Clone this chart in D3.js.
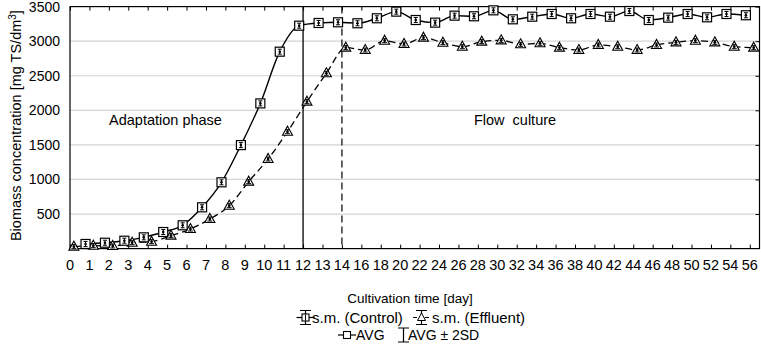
<!DOCTYPE html>
<html lang="en">
<head>
<meta charset="UTF-8">
<title>Biomass concentration</title>
<script src="https://cdn.jsdelivr.net/npm/d3@7"></script>
<style>
  body { margin: 0; background: #fff; }
  svg { display: block; font-family: "Liberation Sans", Arial, sans-serif; }
</style>
</head>
<body>
<svg id="chart" width="761" height="344"></svg>
<script>
// days on the x axis (evenly spaced categories)
var days = [0,1,2,3,4,5,6,7,8,9,10,11,12,13,14,16,18,20,22,24,26,28,30,32,34,36,38,40,42,44,46,48,50,52,54,56];
var yTicks = [500,1000,1500,2000,2500,3000,3500];

// control (squares, solid line) - starts at day 1
var controlDays = [1,2,3,4,5,6,7,8,9,10,11,12,13,14,16,18,20,22,24,26,28,30,32,34,36,38,40,42,44,46,48,50,52,54,56];
var controlVals = [67,85,114,163,240,337,597,959,1497,2100,2848,3224,3263,3273,3259,3331,3427,3306,3268,3369,3360,3446,
                   3316,3354,3393,3331,3393,3354,3436,3306,3340,3393,3345,3393,3375];

// effluent (triangles, dashed line)
var effluentDays = [0,1,2,3,4,5,6,7,8,9,10,11,12,13,14,16,18,20,22,24,26,28,30,32,34,36,38,40,42,44,46,48,50,52,54,56];
var effluentVals = [28,42,38,85,100,187,283,428,620,968,1296,1691,2125,2535,2906,2872,3007,2959,3051,2978,2920,2993,3012,
                    2955,2969,2906,2872,2945,2920,2872,2945,2983,3007,2983,2920,2906];

(function () {
  var svg = d3.select('#chart')
  var pl = 70, pr = 759.5, pt = 6.6, pb = 248.6

  var x = d3.scaleLinear().domain([0, 35.5]).range([pl, pr])
  var y = d3.scaleLinear().domain([0, 3500]).range([pb, pt])
  function xd (d, off) { return x(days.indexOf(d) + off) }

  // grid
  svg.append('g').selectAll('line').data(yTicks.slice(0, -1)).enter().append('line')
    .attr('x1', pl).attr('x2', pr)
    .attr('y1', function (d) { return y(d) }).attr('y2', function (d) { return y(d) })
    .attr('stroke', '#d4d4d4').attr('stroke-width', 1.2)

  // phase lines
  svg.append('line').attr('x1', xd(12, 0)).attr('x2', xd(12, 0)).attr('y1', pt).attr('y2', pb)
    .attr('stroke', '#000').attr('stroke-width', 1.3)
  svg.append('line').attr('x1', xd(14, 0)).attr('x2', xd(14, 0)).attr('y1', pt).attr('y2', pb)
    .attr('stroke', '#333').attr('stroke-width', 1.5).attr('stroke-dasharray', '7,4')

  // axes: ticks inward
  var tickIdx = d3.range(days.length)
  svg.append('g').attr('transform', 'translate(0,' + pb + ')')
    .call(d3.axisTop(x).tickValues(tickIdx).tickFormat('').tickSizeInner(4).tickSizeOuter(0))
  svg.append('g').attr('transform', 'translate(0,' + pt + ')')
    .call(d3.axisBottom(x).tickValues(tickIdx).tickFormat('').tickSizeInner(4).tickSizeOuter(0))
  svg.append('g').attr('transform', 'translate(' + pr + ',0)')
    .call(d3.axisLeft(y).tickValues(yTicks).tickFormat('').tickSizeInner(4).tickSizeOuter(0))
  svg.selectAll('.domain').remove()
  svg.selectAll('.tick line').attr('stroke', '#000').attr('stroke-width', 1)

  // x tick labels
  svg.append('g').selectAll('text').data(days).enter().append('text')
    .attr('x', function (d, i) { return x(i) }).attr('y', 270)
    .attr('text-anchor', 'middle').attr('font-size', 14.5).attr('fill', '#000')
    .text(function (d) { return d })

  // y tick labels
  svg.append('g').selectAll('text').data(yTicks).enter().append('text')
    .attr('x', 60).attr('y', function (d) { return y(d) + 5 })
    .attr('text-anchor', 'end').attr('font-size', 14).attr('fill', '#000')
    .text(function (d) { return d })

  // frame
  svg.append('rect').attr('x', pl).attr('y', pt).attr('width', pr - pl).attr('height', pb - pt)
    .attr('fill', 'none').attr('stroke', '#000').attr('stroke-width', 1.2)

  // lines
  var line = d3.line().curve(d3.curveMonotoneX)
  var ctrlPts = controlDays.map(function (d, i) { return [xd(d, -0.2), y(controlVals[i])] })
  var effPts = effluentDays.map(function (d, i) { return [xd(d, 0.2), y(effluentVals[i])] })

  svg.append('path').attr('d', line(effPts)).attr('fill', 'none')
    .attr('stroke', '#000').attr('stroke-width', 1.3).attr('stroke-dasharray', '7,4')
  svg.append('path').attr('d', line(ctrlPts)).attr('fill', 'none')
    .attr('stroke', '#000').attr('stroke-width', 1.4)

  // markers
  function square (g, cx, cy) {
    g.append('rect').attr('x', cx - 4.5).attr('y', cy - 4.5).attr('width', 9).attr('height', 9)
      .attr('fill', '#fff').attr('stroke', '#000').attr('stroke-width', 1.2)
    g.append('path').attr('d', 'M' + (cx - 2) + ',' + (cy - 2.5) + 'h4M' + cx + ',' + (cy - 2.5) + 'v5M' + (cx - 2) + ',' + (cy + 2.5) + 'h4')
      .attr('stroke', '#000').attr('stroke-width', 1).attr('fill', 'none')
    g.append('circle').attr('cx', cx).attr('cy', cy).attr('r', 1.3).attr('fill', '#000')
  }
  function triangle (g, cx, cy) {
    g.append('path').attr('d', 'M' + cx + ',' + (cy - 5.5) + 'L' + (cx + 5) + ',' + (cy + 3.5) + 'L' + (cx - 5) + ',' + (cy + 3.5) + 'Z')
      .attr('fill', '#fff').attr('stroke', '#000').attr('stroke-width', 1.1)
    g.append('path').attr('d', 'M' + (cx - 2) + ',' + (cy - 2) + 'h4M' + cx + ',' + (cy - 2) + 'v4M' + (cx - 2.5) + ',' + (cy + 2) + 'h5')
      .attr('stroke', '#000').attr('stroke-width', 1).attr('fill', 'none')
    g.append('circle').attr('cx', cx).attr('cy', cy).attr('r', 1.4).attr('fill', '#000')
  }

  var gm = svg.append('g')
  effPts.forEach(function (p) { triangle(gm, p[0], p[1]) })
  ctrlPts.forEach(function (p) { square(gm, p[0], p[1]) })

  // annotations
  svg.append('text').attr('x', 165.5).attr('y', 125).attr('text-anchor', 'middle')
    .attr('font-size', 14.5).attr('fill', '#000').text('Adaptation phase')
  svg.append('text').attr('x', 515).attr('y', 125).attr('text-anchor', 'middle')
    .attr('font-size', 14.5).attr('fill', '#000').attr('xml:space', 'preserve').text('Flow  culture')

  // axis titles
  svg.append('text').attr('transform', 'translate(21,' + ((pt + pb) / 2 - 2) + ') rotate(-90)')
    .attr('text-anchor', 'middle').attr('font-size', 14.5).attr('fill', '#000')
    .html('Biomass concentration [mg TS/dm<tspan dy="-5" font-size="10">3</tspan><tspan dy="5">]</tspan>')
  svg.append('text').attr('x', 410).attr('y', 303).attr('text-anchor', 'middle')
    .attr('font-size', 13.5).attr('fill', '#000').text('Cultivation time [day]')

  // legend
  var lg = svg.append('g')
  function legSquare (cx, cy) {
    lg.append('path').attr('d', 'M' + (cx - 9) + ',' + cy + 'h18').attr('stroke', '#000').attr('stroke-width', 1.2)
    lg.append('rect').attr('x', cx - 3.5).attr('y', cy - 3.5).attr('width', 7).attr('height', 7)
      .attr('fill', '#fff').attr('stroke', '#000').attr('stroke-width', 1.1)
  }
  // row 1
  lg.append('path').attr('d', 'M300,310.5h11M300,324.5h11M305.5,310.5v14').attr('stroke', '#000').attr('stroke-width', 1.2)
  legSquare(305.5, 317.5)
  lg.append('path').attr('d', 'M305.5,314.5v6').attr('stroke', '#000').attr('stroke-width', 1)
  lg.append('text').attr('x', 312).attr('y', 322.5).attr('font-size', 15).attr('fill', '#000').text('s.m. (Control)')
  lg.append('path').attr('d', 'M416,310.5h11M416,324.5h11M421.5,310.5v14').attr('stroke', '#000').attr('stroke-width', 1.2)
  lg.append('path').attr('d', 'M413,317.5h17').attr('stroke', '#000').attr('stroke-width', 1.1).attr('stroke-dasharray', '4,2')
  lg.append('path').attr('d', 'M421.5,313L425.5,320.5L417.5,320.5Z').attr('fill', '#fff').attr('stroke', '#000').attr('stroke-width', 1)
  lg.append('text').attr('x', 432).attr('y', 322.5).attr('font-size', 15).attr('fill', '#000').text('s.m. (Effluent)')
  // row 2
  legSquare(347, 335)
  lg.append('text').attr('x', 356).attr('y', 340).attr('font-size', 14).attr('fill', '#000').text('AVG')
  lg.append('path').attr('d', 'M398,328h11M398,342h11M403.5,328v14').attr('stroke', '#000').attr('stroke-width', 1.2)
  lg.append('text').attr('x', 408).attr('y', 340).attr('font-size', 14).attr('fill', '#000').text('AVG ± 2SD')
})()
</script>
</body>
</html>
